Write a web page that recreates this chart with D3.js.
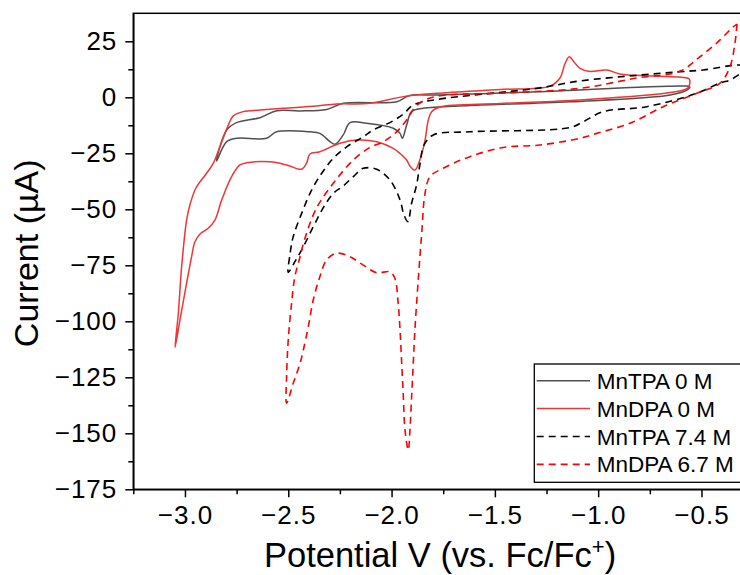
<!DOCTYPE html>
<html>
<head>
<meta charset="utf-8">
<script src="https://cdn.jsdelivr.net/npm/d3@7"></script>
<style>
  html, body { margin: 0; padding: 0; background: #fff; }
  svg { display: block; }
  text { font-family: "Liberation Sans", Arial, sans-serif; fill: #000; }
</style>
</head>
<body>
<div id="chart"></div>
<script>
// ---------------- data (Potential V vs Fc/Fc+, Current µA) ----------------
const seriesNames = ["MnTPA 0 M", "MnDPA 0 M", "MnTPA 7.4 M", "MnDPA 6.7 M"];

const mnTPA0 = [
  [-0.555,4.6],[-0.566,3.4],[-0.652,1.0],[-1.136,-2.0],[-1.621,-3.7],[-1.847,-4.9],[-1.903,-6.4],
  [-1.927,-12.4],[-1.948,-18.3],[-1.959,-16.1],[-1.992,-13.8],[-2.121,-11.6],[-2.201,-11.3],
  [-2.234,-16.8],[-2.274,-21.0],[-2.298,-19.8],[-2.347,-16.1],[-2.395,-15.4],[-2.556,-15.4],
  [-2.605,-18.3],[-2.750,-18.3],[-2.798,-19.8],[-2.847,-28.4],
  [-2.798,-14.6],[-2.750,-11.3],[-2.637,-9.1],[-2.556,-6.0],[-2.443,-6.1],[-2.314,-5.4],
  [-2.234,-2.7],[-1.975,-2.0],[-1.927,0.3],[-1.895,1.0],[-1.782,1.0],[-1.298,2.5],[-0.572,5.0],[-0.555,4.6]
];

const mnDPA0 = [
  [-0.556,7.7],[-0.565,4.2],[-0.652,2.1],[-1.088,-1.2],[-1.475,-2.8],[-1.766,-4.3],[-1.806,-6.4],
  [-1.822,-10.1],[-1.838,-19.1],[-1.860,-27.1],[-1.887,-32.5],[-1.911,-30.7],[-1.927,-28.0],
  [-1.959,-25.1],[-1.992,-22.8],[-2.072,-19.8],[-2.169,-19.1],[-2.250,-20.5],[-2.347,-24.3],
  [-2.395,-25.3],[-2.411,-29.3],[-2.435,-32.1],[-2.508,-30.2],[-2.589,-28.8],[-2.701,-29.2],
  [-2.734,-30.2],[-2.774,-35.4],[-2.822,-45.8],[-2.855,-54.8],[-2.889,-58.6],[-2.927,-61.0],
  [-2.952,-64.6],[-2.968,-71.2],[-2.992,-83.0],[-3.024,-99.4],[-3.048,-111.7],
  [-3.032,-96.4],[-3.016,-75.6],[-2.992,-54.8],[-2.976,-48.1],[-2.947,-40.5],[-2.895,-33.9],
  [-2.863,-29.5],[-2.831,-22.1],[-2.790,-12.4],[-2.766,-8.3],[-2.718,-6.4],[-2.637,-5.7],
  [-2.524,-4.9],[-2.363,-3.9],[-2.266,-3.0],[-2.105,-2.7],[-1.943,0.3],[-1.782,1.8],[-1.475,3.5],
  [-1.233,5.0],[-1.185,8.6],[-1.161,14.9],[-1.140,18.1],[-1.117,15.8],[-1.088,12.9],[-1.040,11.5],
  [-0.959,12.2],[-0.895,10.4],[-0.733,9.5],[-0.565,8.5],[-0.556,7.7]
];

const mnTPA74 = [
  [-0.27,13.0],[-0.314,10.4],[-0.362,7.7],[-0.410,6.4],[-0.523,1.8],[-0.765,-4.2],[-0.975,-6.4],
  [-1.072,-10.9],[-1.136,-13.5],[-1.621,-15.4],[-1.798,-16.8],[-1.843,-21.3],[-1.863,-30.2],
  [-1.879,-39.2],[-1.903,-47.3],[-1.921,-55.5],[-1.940,-52.5],[-1.959,-45.8],[-2.008,-36.9],
  [-2.072,-32.1],[-2.137,-31.7],[-2.185,-35.4],[-2.234,-39.6],[-2.282,-42.9],[-2.331,-49.4],
  [-2.379,-57.8],[-2.427,-66.7],[-2.468,-73.4],[-2.500,-78.2],
  [-2.492,-70.4],[-2.476,-62.2],[-2.435,-51.8],[-2.387,-41.4],[-2.338,-33.9],[-2.282,-27.2],
  [-2.217,-22.1],[-2.137,-17.6],[-2.089,-14.6],[-2.008,-11.3],[-1.943,-7.5],[-1.895,-3.4],
  [-1.782,-1.0],[-1.298,4.0],[-1.088,7.3],[-0.814,9.8],[-0.604,11.4],[-0.491,12.2],[-0.314,14.4],[-0.27,13.0]
];

const mnDPA67 = [
  [-0.328,32.7],[-0.338,24.1],[-0.362,13.7],[-0.410,6.3],[-0.523,1.8],[-0.685,-4.2],[-0.846,-11.6],
  [-1.007,-16.1],[-1.088,-18.3],[-1.282,-21.3],[-1.459,-22.4],[-1.621,-26.5],[-1.750,-31.7],
  [-1.814,-35.4],[-1.838,-42.9],[-1.854,-60.7],[-1.871,-81.6],[-1.887,-103.9],[-1.895,-118.8],
  [-1.903,-133.7],[-1.911,-148.5],[-1.919,-157.5],[-1.935,-148.5],[-1.943,-133.7],[-1.951,-118.8],
  [-1.959,-103.9],[-1.968,-92.0],[-1.984,-80.8],[-2.008,-77.9],[-2.072,-78.3],[-2.137,-74.9],
  [-2.201,-71.2],[-2.266,-69.6],[-2.314,-72.6],[-2.347,-80.1],[-2.379,-90.5],[-2.403,-102.4],
  [-2.427,-112.8],[-2.443,-118.8],[-2.476,-127.7],[-2.508,-136.6],
  [-2.508,-124.7],[-2.500,-108.3],[-2.484,-92.0],[-2.468,-80.1],[-2.443,-71.2],[-2.419,-62.9],
  [-2.363,-49.4],[-2.282,-38.4],[-2.185,-28.0],[-2.105,-22.4],[-2.040,-19.8],[-1.975,-15.4],
  [-1.927,-10.1],[-1.879,-3.7],[-1.798,0.1],[-1.459,1.9],[-1.088,4.0],[-0.814,8.6],[-0.604,11.7],
  [-0.507,18.1],[-0.410,25.6],[-0.346,31.5],[-0.328,32.7]
];

const xTicks = [-3.0, -2.5, -2.0, -1.5, -1.0, -0.5];
const xMinorTicks = [-3.25, -2.75, -2.25, -1.75, -1.25, -0.75];
const yTicks = [-175, -150, -125, -100, -75, -50, -25, 0, 25];
const yMinorTicks = [-162.5, -137.5, -112.5, -87.5, -62.5, -37.5, -12.5, 12.5];

// ---------------- layout ----------------
const W = 740, H = 575;
const margin = { left: 133.3, top: 13.3 };
const plotW = 609.5, plotH = 476;

const svg = d3.select("#chart").append("svg").attr("width", W).attr("height", H);

const x = d3.scaleLinear().domain([-3.25, -0.3]).range([margin.left, margin.left + plotW]);
const y = d3.scaleLinear().domain([-175, 37.5]).range([margin.top + plotH, margin.top]);

svg.append("clipPath").attr("id", "plotclip").append("rect")
  .attr("x", margin.left).attr("y", margin.top).attr("width", plotW).attr("height", plotH);

const styles = [
  { data: mnTPA0,  color: "#505050", dash: null,  width: 1.5 },
  { data: mnDPA0,  color: "#ef3535", dash: null,  width: 1.5 },
  { data: mnTPA74, color: "#000000", dash: "7,5", width: 1.6 },
  { data: mnDPA67, color: "#ff0000", dash: "7,5", width: 1.6 }
];

const line = d3.line().x(d => x(d[0])).y(d => y(d[1])).curve(d3.curveCatmullRom.alpha(0.5));

const gLines = svg.append("g").attr("clip-path", "url(#plotclip)");
styles.forEach(s => {
  gLines.append("path").datum(s.data)
    .attr("d", line).attr("fill", "none")
    .attr("stroke", s.color).attr("stroke-width", s.width)
    .attr("stroke-dasharray", s.dash).attr("stroke-linejoin", "round");
});

// frame
svg.append("rect").attr("x", margin.left).attr("y", margin.top)
  .attr("width", plotW).attr("height", plotH)
  .attr("fill", "none").attr("stroke", "#000").attr("stroke-width", 1.5);

// axes
const fmtX = d3.format(".1f");
const fmtY = d3.format("d");

svg.append("g").attr("transform", `translate(0,${margin.top + plotH})`)
  .call(d3.axisBottom(x).tickValues(xTicks).tickFormat(fmtX).tickSize(8).tickPadding(8).tickSizeOuter(0));
svg.append("g").attr("transform", `translate(0,${margin.top + plotH})`)
  .call(d3.axisBottom(x).tickValues(xMinorTicks).tickFormat("").tickSize(5).tickSizeOuter(0))
  .select(".domain").remove();

svg.append("g").attr("transform", `translate(${margin.left},0)`)
  .call(d3.axisLeft(y).tickValues(yTicks).tickFormat(fmtY).tickSize(8).tickPadding(8).tickSizeOuter(0));
svg.append("g").attr("transform", `translate(${margin.left},0)`)
  .call(d3.axisLeft(y).tickValues(yMinorTicks).tickFormat("").tickSize(5).tickSizeOuter(0))
  .select(".domain").remove();

svg.selectAll(".domain").attr("stroke-width", 1.5);
svg.selectAll(".tick line").attr("stroke-width", 1.5);
svg.selectAll(".tick text").attr("font-size", 26).attr("letter-spacing", 1)
  .attr("font-family", '"Liberation Sans", Arial, sans-serif').attr("fill", "#000");

// axis titles
svg.append("text")
  .attr("transform", `translate(38,${margin.top + plotH / 2 + 2}) rotate(-90)`)
  .attr("text-anchor", "middle").attr("font-size", 34)
  .text("Current (µA)");

const xt = svg.append("text")
  .attr("x", margin.left + plotW / 2 + 2).attr("y", 567)
  .attr("text-anchor", "middle").attr("font-size", 34.5);
xt.append("tspan").text("Potential V (vs. Fc/Fc");
xt.append("tspan").attr("dy", -13).attr("font-size", 22).text("+");
xt.append("tspan").attr("dy", 13).text(")");

// legend
const lg = svg.append("g");
lg.append("rect").attr("x", 534.3).attr("y", 364).attr("width", 230).attr("height", 118.3)
  .attr("fill", "#fff").attr("stroke", "#000").attr("stroke-width", 1.3);
seriesNames.forEach((name, i) => {
  const ry = 380.7 + i * 27.9;
  lg.append("line").attr("x1", 536.7).attr("x2", 590).attr("y1", ry).attr("y2", ry)
    .attr("stroke", styles[i].color).attr("stroke-width", styles[i].width)
    .attr("stroke-dasharray", styles[i].dash);
  lg.append("text").attr("x", 596.7).attr("y", ry + 8).attr("font-size", 22.5).text(name);
});
</script>
</body>
</html>
